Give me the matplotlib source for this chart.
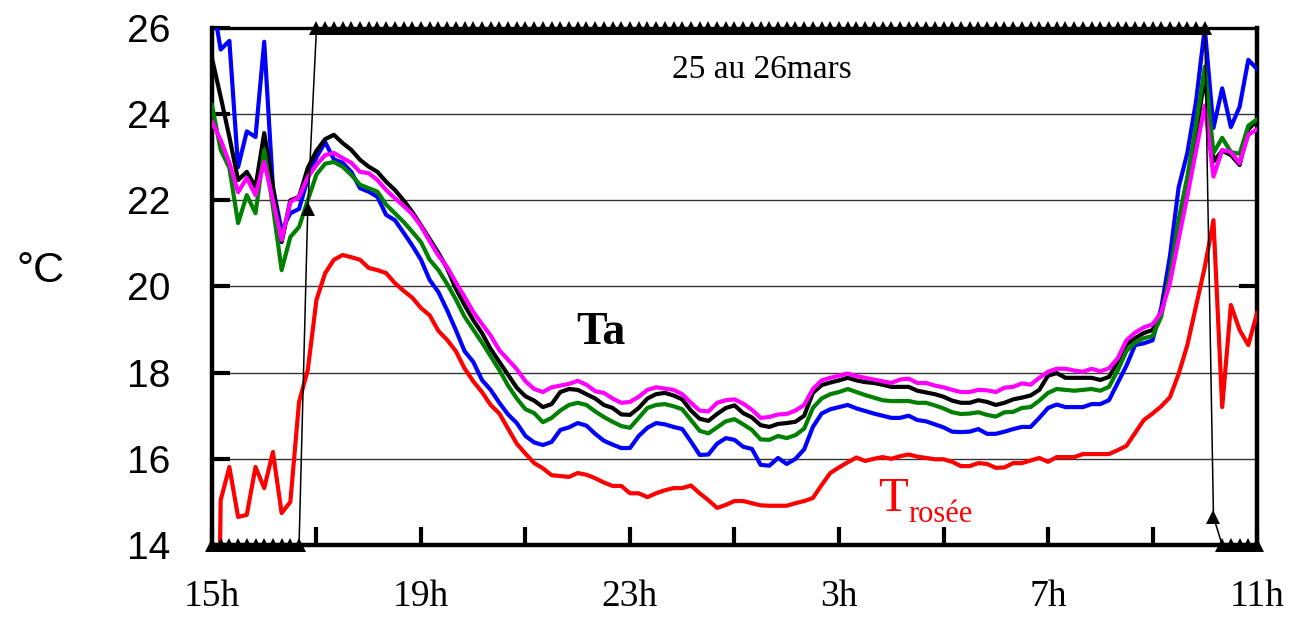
# -*- coding:utf-8 -*-
import numpy as np
import matplotlib
matplotlib.use('Agg')
import matplotlib.pyplot as plt

# pas de mesure : 10 min, de 15h le 25 à 11h le 26
minutes = np.arange(0, 1201, 10)

t_bleu = [26.7, 25.5, 25.7, 22.77, 23.6, 23.47, 25.68, 22.3, 21.3, 21.7, 21.8, 22.5, 23.0, 23.35, 22.95,
          22.87, 22.66, 22.28, 22.2, 22.08, 21.66, 21.54, 21.25, 20.95, 20.62, 20.15, 19.87, 19.45, 18.99,
          18.5, 18.25, 17.83, 17.6, 17.3, 17.03, 16.83, 16.53, 16.38, 16.32, 16.39, 16.67, 16.73, 16.83,
          16.77, 16.58, 16.42, 16.33, 16.25, 16.25, 16.53, 16.72, 16.83, 16.8, 16.74, 16.69, 16.4, 16.09,
          16.1, 16.35, 16.48, 16.44, 16.28, 16.23, 15.86, 15.84, 16.02, 15.88, 16.0, 16.22, 16.74, 17.05,
          17.15, 17.2, 17.25, 17.17, 17.11, 17.05, 17.0, 16.95, 16.95, 17.0, 16.9, 16.87, 16.8, 16.73,
          16.63, 16.62, 16.63, 16.69, 16.58, 16.58, 16.63, 16.69, 16.74, 16.74, 16.95, 17.18, 17.26, 17.2,
          17.2, 17.2, 17.27, 17.27, 17.36, 17.76, 18.16, 18.64, 18.68, 18.75, 19.5, 20.7, 22.3, 23.1,
          24.3, 26.0, 23.68, 24.6, 23.7, 24.17, 25.26, 25.05]

t_noir = [25.3, 24.4, 23.47, 22.47, 22.66, 22.31, 23.56, 22.31, 21.03, 22.0, 22.08, 22.75, 23.15, 23.42,
          23.52, 23.33, 23.17, 22.94, 22.78, 22.66, 22.43, 22.24, 22.0, 21.73, 21.42, 21.1, 20.78, 20.42,
          19.95, 19.57, 19.22, 18.92, 18.55, 18.25, 17.95, 17.65, 17.45, 17.35, 17.2, 17.27, 17.55, 17.62,
          17.6, 17.5, 17.4, 17.25, 17.18, 17.03, 17.02, 17.18, 17.4, 17.5, 17.53, 17.47, 17.38, 17.12,
          16.93, 16.88, 17.04, 17.18, 17.24, 17.06, 16.96, 16.78, 16.74, 16.81, 16.83, 16.86, 17.0, 17.53,
          17.71, 17.77, 17.82, 17.88, 17.82, 17.78, 17.76, 17.72, 17.67, 17.67, 17.67, 17.58, 17.54, 17.5,
          17.44, 17.35, 17.3, 17.3, 17.36, 17.32, 17.25, 17.3, 17.38, 17.42, 17.47, 17.6, 17.93, 17.99,
          17.88, 17.88, 17.88, 17.88, 17.83, 17.9, 18.25, 18.65, 18.8, 18.92, 18.99, 19.4, 20.3, 21.4,
          22.4, 23.5, 24.9, 22.9, 23.15, 23.05, 22.82, 23.65, 23.85]

t_vert = [24.21, 23.17, 22.75, 21.47, 22.12, 21.7, 23.17, 21.85, 20.38, 21.15, 21.38, 22.0, 22.6, 22.85,
          22.89, 22.78, 22.59, 22.36, 22.28, 22.2, 21.9, 21.7, 21.5, 21.27, 21.03, 20.62, 20.38, 20.06,
          19.7, 19.3, 19.0, 18.7, 18.38, 18.06, 17.7, 17.4, 17.15, 17.06, 16.85, 16.95, 17.12, 17.25, 17.3,
          17.25, 17.1, 16.97, 16.86, 16.76, 16.72, 16.95, 17.18, 17.25, 17.27, 17.22, 17.15, 16.9, 16.65,
          16.59, 16.73, 16.87, 16.92, 16.8, 16.67, 16.45, 16.44, 16.53, 16.48, 16.55, 16.7, 17.18, 17.4,
          17.5, 17.55, 17.62, 17.55, 17.48, 17.42, 17.36, 17.34, 17.34, 17.34, 17.3, 17.3, 17.24, 17.17,
          17.08, 17.04, 17.05, 17.08, 17.02, 16.98, 17.08, 17.09, 17.18, 17.2, 17.35, 17.53, 17.62, 17.6,
          17.58, 17.6, 17.62, 17.58, 17.67, 18.05, 18.5, 18.7, 18.8, 18.85, 19.3, 20.3, 21.55, 22.55,
          23.75, 25.1, 23.1, 23.45, 23.12, 23.08, 23.73, 23.88]

t_magenta = [23.82, 23.4, 22.87, 22.19, 22.52, 22.12, 22.89, 22.0, 21.08, 21.96, 22.08, 22.54, 22.82, 23.05,
             23.1, 22.98, 22.87, 22.66, 22.63, 22.47, 22.24, 22.05, 21.87, 21.68, 21.4, 21.05, 20.72, 20.45,
             20.1, 19.76, 19.41, 19.13, 18.86, 18.52, 18.3, 18.08, 17.8, 17.62, 17.55, 17.66, 17.7, 17.74,
             17.81, 17.72, 17.57, 17.53, 17.4, 17.3, 17.32, 17.44, 17.6, 17.66, 17.63, 17.6, 17.5, 17.3,
             17.12, 17.1, 17.3, 17.36, 17.38, 17.28, 17.14, 16.95, 16.97, 17.03, 17.04, 17.12, 17.25, 17.62,
             17.82, 17.88, 17.93, 17.98, 17.92, 17.88, 17.84, 17.8, 17.76, 17.84, 17.86, 17.76, 17.76, 17.7,
             17.66, 17.6, 17.55, 17.55, 17.6, 17.59, 17.55, 17.65, 17.67, 17.75, 17.72, 17.88, 18.02, 18.09,
             18.09, 18.05, 18.02, 18.09, 18.03, 18.1, 18.33, 18.75, 18.93, 19.05, 19.12, 19.4, 20.08, 21.1,
             22.1, 23.15, 24.2, 22.55, 23.17, 23.12, 22.86, 23.52, 23.65]

t_rosee = [0.0, 15.04, 15.81, 14.65, 14.7, 15.81, 15.32, 16.16, 14.74, 15.0, 17.32, 18.06, 19.69, 20.31,
           20.62, 20.73, 20.68, 20.62, 20.43, 20.38, 20.31, 20.08, 19.9, 19.74, 19.5, 19.33, 18.97, 18.76,
           18.5, 18.1, 17.8, 17.55, 17.25, 17.05, 16.7, 16.35, 16.12, 15.9, 15.78, 15.62, 15.6, 15.58,
           15.67, 15.63, 15.55, 15.45, 15.37, 15.37, 15.2, 15.2, 15.11, 15.2, 15.27, 15.32, 15.32, 15.38,
           15.2, 15.04, 14.86, 14.93, 15.02, 15.02, 14.97, 14.92, 14.91, 14.91, 14.91, 14.97, 15.02, 15.09,
           15.39, 15.67, 15.8, 15.92, 16.03, 15.95, 16.0, 16.04, 16.0, 16.06, 16.1, 16.05, 16.02, 15.99,
           15.99, 15.93, 15.83, 15.83, 15.9, 15.88, 15.79, 15.8, 15.9, 15.9, 15.96, 16.02, 15.93, 16.04,
           16.04, 16.04, 16.11, 16.11, 16.11, 16.11, 16.2, 16.3, 16.6, 16.9, 17.05, 17.22, 17.43, 17.97,
           18.64, 19.55, 20.45, 21.54, 17.2, 19.57, 18.99, 18.64, 19.38]

# capteur saturé : bornes 14 / 26
t_capteur = [14] * 11 + [21.8] + [26] * 103 + [14.65] + [14] * 5

etiquettes_x = ['15h', '19h', '23h', '3h', '7h', '11h']
graduations_y = [14, 16, 18, 20, 22, 24, 26]


def tracer_courbes(ax, heures):
    """
    Trace les températures et la température de rosée
    """
    ax.plot(heures, t_bleu, color='#0000ff', lw=3.0, zorder=3)
    ax.plot(heures, t_noir, color='black', lw=3.0, zorder=3)
    ax.plot(heures, t_vert, color='#008000', lw=3.0, zorder=3)
    ax.plot(heures, t_magenta, color='#ff00ff', lw=3.0, zorder=3)
    ax.plot(heures, t_rosee, color='#ff0000', lw=3.0, zorder=3)
    ax.plot(heures, t_capteur, color='black', lw=1.1, marker='^', ms=9.5,
            markeredgewidth=0, clip_on=False, zorder=6)


def mise_en_forme(ax):
    """
    Axes, grille et annotations
    """
    ax.set_xlim(0, 20)
    ax.set_ylim(14, 26)
    ax.set_yticks(graduations_y)
    ax.set_yticklabels([str(v) for v in graduations_y], family='Liberation Sans', fontsize=28)
    ax.set_xticks(range(0, 21, 4))
    ax.set_xticks(range(2, 20, 4), minor=True)
    ax.set_xticklabels(etiquettes_x, family='Liberation Serif', fontsize=27)
    ax.tick_params(axis='both', which='both', direction='in', length=13, width=3, color='black')
    ax.tick_params(axis='y', pad=30)
    ax.tick_params(axis='x', pad=25)
    ax.grid(axis='y', color='#333333', lw=1.0, zorder=1)
    for side in ['left', 'right', 'bottom']:
        ax.spines[side].set_linewidth(3.2)
    ax.spines['top'].set_linewidth(2.4)

    # graduation isolée à droite
    ax_d = ax.twinx()
    ax_d.set_ylim(14, 26)
    ax_d.set_yticks([20])
    ax_d.tick_params(axis='y', direction='in', length=13, width=3, labelright=False)
    for s in ax_d.spines.values():
        s.set_visible(False)

    ax.text(-3.28, 20.35, '°C', family='Liberation Sans', fontsize=31, ha='center', va='center')
    ax.text(10.53, 25.03, '25 au 26mars', family='Liberation Serif', fontsize=24,
            ha='center', va='center')
    ax.text(7.44, 18.92, 'Ta', family='Liberation Serif', fontsize=33, fontweight='bold',
            ha='center', va='center', zorder=5)
    t = ax.text(12.75, 14.8, 'T', family='Liberation Serif', fontsize=35, color='#ff0000',
                ha='left', va='baseline')
    ax.annotate('rosée', xy=(1, 0), xycoords=t, xytext=(0, -1), textcoords='offset points',
                family='Liberation Serif', fontsize=22, color='#ff0000', ha='left', va='baseline')


def main():
    heures = minutes / 60
    fig = plt.figure(figsize=(13.06, 6.2), dpi=100)
    ax = fig.add_axes([0.1623, 0.121, 0.8002, 0.8339])
    tracer_courbes(ax, heures)
    mise_en_forme(ax)
    fig.savefig('out.png', dpi=100)


if __name__ == '__main__':
    main()
